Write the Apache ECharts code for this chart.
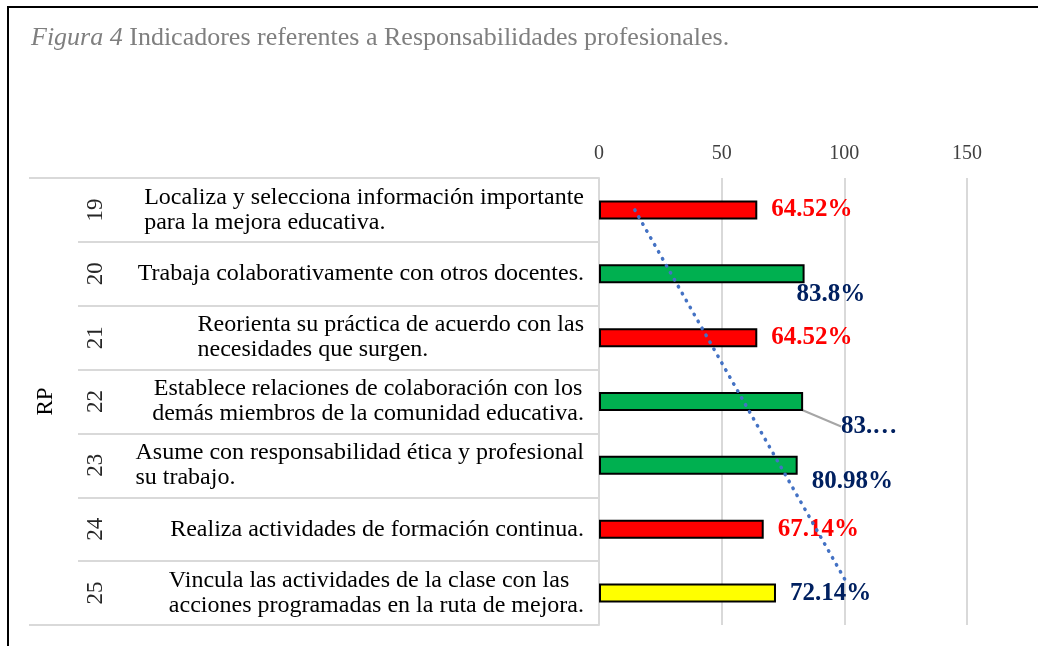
<!DOCTYPE html>
<html>
<head>
<meta charset="utf-8">
<script src="https://cdn.jsdelivr.net/npm/echarts@6/dist/echarts.min.js"></script>
<style>
  html, body { margin: 0; padding: 0; background: #fff; }
  #chart { width: 1038px; height: 646px; }
</style>
</head>
<body>
<div id="chart"></div>
<script>
// datos
const groupName = ['RP']
const itemNumbers = ['19', '20', '21', '22', '23', '24', '25']
const itemTexts = [
  'Localiza y selecciona información importante\npara la mejora educativa.',
  'Trabaja colaborativamente con otros docentes.',
  'Reorienta su práctica de acuerdo con las\nnecesidades que surgen.',
  'Establece relaciones de colaboración con los\ndemás miembros de la comunidad educativa.',
  'Asume con responsabilidad ética y profesional\nsu trabajo.',
  'Realiza actividades de formación continua.',
  'Vincula las actividades de la clase con las\nacciones programadas en la ruta de mejora.'
]
const percentValues = [64.52, 83.8, 64.52, 83.2, 80.98, 67.14, 72.14]
const percentLabels = ['64.52%', '83.8%', '64.52%', '83.…', '80.98%', '67.14%', '72.14%']
const levels = ['bajo', 'alto', 'bajo', 'alto', 'alto', 'bajo', 'medio']
const xTicks = [0, 50, 100, 150]
// linea de tendencia: extremos [valor, fila]
const trendX = [14.6, 101]
const trendRow = [0, 5.84]

const serif = 'Liberation Serif, Times New Roman, serif'
const barColor = {bajo: '#FF0000', alto: '#00B050', medio: '#FFFF00'}
const labelColor = {bajo: '#FF0000', alto: '#002060', medio: '#002060'}
// desplazamientos de las etiquetas como en la figura
const labelShift = [[0, 0], [-22, 21], [0, 0], [24, 25], [0, 16], [0, 0], [0, 0]]

const chart = echarts.init(document.getElementById('chart'))

const barData = percentValues.map(function (v, i) {
  return {
    value: v,
    itemStyle: {color: barColor[levels[i]]},
    label: {color: labelColor[levels[i]]},
    labelLine: {show: i === 3}
  }
})

chart.setOption({
  animation: false,
  title: {
    text: '{i|Figura 4} Indicadores referentes a Responsabilidades profesionales.',
    left: 26,
    top: 20,
    textStyle: {
      fontFamily: serif,
      fontSize: 26,
      fontWeight: 'normal',
      color: '#7F7F7F',
      rich: {
        i: {fontFamily: serif, fontSize: 26, fontStyle: 'italic', color: '#7F7F7F'}
      }
    }
  },
  graphic: [{
    type: 'rect',
    silent: true,
    shape: {x: 8, y: 7, width: 1200, height: 800},
    style: {fill: 'none', stroke: '#000', lineWidth: 2}
  }],
  grid: {left: 599, right: 71, top: 178, bottom: 21, containLabel: false},
  xAxis: {
    type: 'value',
    position: 'top',
    min: xTicks[0],
    max: xTicks[xTicks.length - 1],
    interval: xTicks[1] - xTicks[0],
    axisLine: {show: false},
    axisTick: {show: false},
    axisLabel: {fontFamily: serif, fontSize: 20, color: '#404040', margin: 14},
    splitLine: {lineStyle: {color: '#D9D9D9', width: 2}}
  },
  yAxis: [
    {
      type: 'category',
      position: 'left',
      inverse: true,
      data: itemTexts,
      axisLine: {show: true, lineStyle: {color: '#D9D9D9', width: 2}},
      axisTick: {show: true, length: 521, lineStyle: {color: '#D9D9D9', width: 2}},
      axisLabel: {
        margin: 15,
        fontFamily: serif,
        fontSize: 24,
        color: '#000',
        formatter: function (value, index) {
          return (index === 3 ? '{c|' : '{l|') + value + '}'
        },
        rich: {
          l: {fontFamily: serif, fontSize: 24, lineHeight: 25, color: '#000', align: 'left'},
          c: {fontFamily: serif, fontSize: 24, lineHeight: 25, color: '#000', align: 'center'}
        }
      }
    },
    {
      type: 'category',
      position: 'left',
      inverse: true,
      data: itemNumbers,
      axisLine: {show: false},
      axisTick: {show: false},
      axisLabel: {rotate: 90, margin: 492, fontFamily: serif, fontSize: 23, color: '#262626'}
    },
    {
      type: 'category',
      position: 'left',
      data: groupName,
      axisLine: {show: false},
      axisTick: {show: true, length: 570, lineStyle: {color: '#D9D9D9', width: 2}},
      axisLabel: {rotate: 90, margin: 542, fontFamily: serif, fontSize: 23, color: '#000'}
    },
    {
      type: 'value',
      show: false,
      inverse: true,
      min: -0.5,
      max: itemNumbers.length - 0.5
    }
  ],
  series: [
    {
      type: 'bar',
      yAxisIndex: 0,
      barWidth: 19,
      data: barData,
      itemStyle: {borderColor: '#000', borderWidth: 2},
      label: {
        show: true,
        position: 'right',
        distance: 14,
        fontFamily: serif,
        fontSize: 25,
        fontWeight: 'bold',
        formatter: function (p) {
          return percentLabels[p.dataIndex]
        }
      },
      labelLine: {lineStyle: {color: '#A6A6A6', width: 2}},
      labelLayout: function (p) {
        return {dx: labelShift[p.dataIndex][0], dy: labelShift[p.dataIndex][1]}
      }
    },
    {
      type: 'line',
      yAxisIndex: 3,
      symbol: 'none',
      clip: false,
      data: trendX.map(function (x, i) { return [x, trendRow[i]] }),
      lineStyle: {color: '#4472C4', width: 3.5, type: [0.5, 7.5], cap: 'round'},
      z: 5
    }
  ]
})
</script>
</body>
</html>
